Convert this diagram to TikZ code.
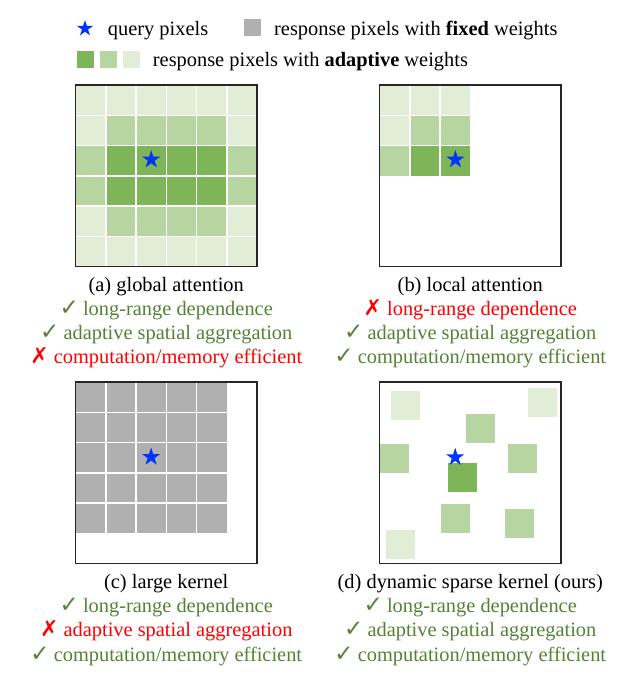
\documentclass[tikz,border=0pt]{standalone}
\usepackage{fontspec}
\setmainfont{Liberation Serif}
\newfontfamily\symfont{DejaVu Sans}
\usetikzlibrary{shapes.geometric}
\definecolor{gdark}{RGB}{127,181,89}
\definecolor{gmed}{RGB}{183,213,161}
\definecolor{glight}{RGB}{226,237,216}
\definecolor{kgray}{RGB}{176,176,176}
\definecolor{qblue}{RGB}{0,51,255}
\definecolor{okgreen}{RGB}{84,130,53}
\definecolor{badred}{RGB}{255,0,0}
\newcommand\goodline[1]{\textcolor{okgreen}{{\symfont\fontsize{23}{24}\selectfont ✓}\hspace{0.2em}#1}}
\newcommand\badline[1]{\textcolor{badred}{{\symfont\fontsize{22}{24}\selectfont ✗}\hspace{0.25em}#1}}
\tikzset{
  cellL/.style={fill=glight},
  cellM/.style={fill=gmed},
  cellD/.style={fill=gdark},
  cellG/.style={fill=kgray},
  gridline/.style={draw=white, line width=1.5pt},
  frame/.style={draw=black!85, line width=1.3pt},
  qstar/.style={star, star points=5, star point ratio=2.618, fill=qblue, inner sep=0pt, minimum size=19pt},
  legsq/.style={inner sep=0pt, minimum size=16.8pt},
  txt/.style={inner sep=0pt, anchor=base},
  ltxt/.style={inner sep=0pt, anchor=base west},
}
\begin{document}
\begin{tikzpicture}[x=1pt, y=-1pt, font=\fontsize{20.4}{24}\selectfont]
\useasboundingbox (0,0) rectangle (631,675);
\def\s{30.25}
% ---------- legend ----------
\node[qstar, minimum size=17pt] (lstar) at (85,28.5) {};
\node[ltxt] (lquery) at (107.7,35) {query pixels};
\node[legsq, fill=kgray] (lfix) at (252.5,27.7) {};
\node[ltxt] (lfixt) at (274,35) {response pixels with \textbf{fixed} weights};
\node[legsq, fill=gdark] (lad1) at (85.7,59.4) {};
\node[legsq, fill=gmed] (lad2) at (108.4,59.4) {};
\node[legsq, fill=glight] (lad3) at (131.4,59.4) {};
\node[ltxt] (ladt) at (152.7,66.7) {response pixels with \textbf{adaptive} weights};
% ---------- (a) global attention ----------
\foreach \row [count=\j from 0] in {{L,L,L,L,L,L},{L,M,M,M,M,L},{M,D,D,D,D,M},{M,D,D,D,D,M},{L,M,M,M,M,L},{L,L,L,L,L,L}}{
  \foreach \c [count=\i from 0] in \row {
    \path[cell\c] (75.5+\i*\s, 85+\j*\s) rectangle ++(\s,\s);
  }
}
\foreach \k in {1,...,5}{
  \draw[gridline] (75.5+\k*\s,85) -- ++(0,6*\s);
  \draw[gridline] (75.5,85+\k*\s) -- ++(6*\s,0);
}
\draw[frame] (75.5,85) rectangle (257,266.5);
\node[qstar] (sa) at (151.2,159.6) {};
% ---------- (b) local attention ----------
\foreach \row [count=\j from 0] in {{L,L,L},{L,M,M},{M,D,D}}{
  \foreach \c [count=\i from 0] in \row {
    \path[cell\c] (379.5+\i*\s, 85+\j*\s) rectangle ++(\s,\s);
  }
}
\foreach \k in {1,2}{
  \draw[gridline] (379.5+\k*\s,85) -- ++(0,3*\s);
  \draw[gridline] (379.5,85+\k*\s) -- ++(3*\s,0);
}
\draw[frame] (379.5,85) rectangle (561,266.5);
\node[qstar] (sb) at (455.4,159.6) {};
% ---------- (c) large kernel ----------
\foreach \j in {0,...,4}{
  \foreach \i in {0,...,4}{
    \path[cellG] (75.5+\i*\s, 382+\j*\s) rectangle ++(\s,\s);
  }
}
\foreach \k in {1,...,4}{
  \draw[gridline] (75.5+\k*\s,382) -- ++(0,5*\s);
  \draw[gridline] (75.5,382+\k*\s) -- ++(5*\s,0);
}
\draw[frame] (75.5,382) rectangle (257,563.5);
\node[qstar] (sc) at (151.1,457) {};
% ---------- (d) dynamic sparse kernel ----------
\path[cellL] (391,391) rectangle ++(29,29);
\path[cellL] (528,387.5) rectangle ++(29,29);
\path[cellM] (465.5,413.5) rectangle ++(29,29);
\path[cellM] (380,443.5) rectangle ++(29,29);
\path[cellM] (507.5,443.5) rectangle ++(29,29);
\path[cellD] (447.5,462.5) rectangle ++(29,29);
\path[cellM] (441,504) rectangle ++(29,29);
\path[cellM] (505,508.5) rectangle ++(29,29);
\path[cellL] (386,530) rectangle ++(29,29);
\draw[frame] (379.5,382) rectangle (561,563.5);
\node[qstar] (sd) at (455.2,457.3) {};
% ---------- captions ----------
\node[txt] (capa) at (166.25,291) {(a) global attention};
\node[txt] (a1) at (166.25,315.2) {\goodline{long-range dependence}};
\node[txt] (a2) at (166.25,339.2) {\goodline{adaptive spatial aggregation}};
\node[txt] (a3) at (166.25,363.5) {\badline{computation/memory efficient}};
\node[txt] (capb) at (470.25,291) {(b) local attention};
\node[txt] (b1) at (470.25,315.2) {\badline{long-range dependence}};
\node[txt] (b2) at (470.25,339.2) {\goodline{adaptive spatial aggregation}};
\node[txt] (b3) at (470.25,363.5) {\goodline{computation/memory efficient}};
\node[txt] (capc) at (166.25,588.5) {(c) large kernel};
\node[txt] (c1) at (166.25,612.7) {\goodline{long-range dependence}};
\node[txt] (c2) at (166.25,636.7) {\badline{adaptive spatial aggregation}};
\node[txt] (c3) at (166.25,661) {\goodline{computation/memory efficient}};
\node[txt] (capd) at (470.25,588.5) {(d) dynamic sparse kernel (ours)};
\node[txt] (d1) at (470.25,612.7) {\goodline{long-range dependence}};
\node[txt] (d2) at (470.25,636.7) {\goodline{adaptive spatial aggregation}};
\node[txt] (d3) at (470.25,661) {\goodline{computation/memory efficient}};
\end{tikzpicture}
\end{document}
